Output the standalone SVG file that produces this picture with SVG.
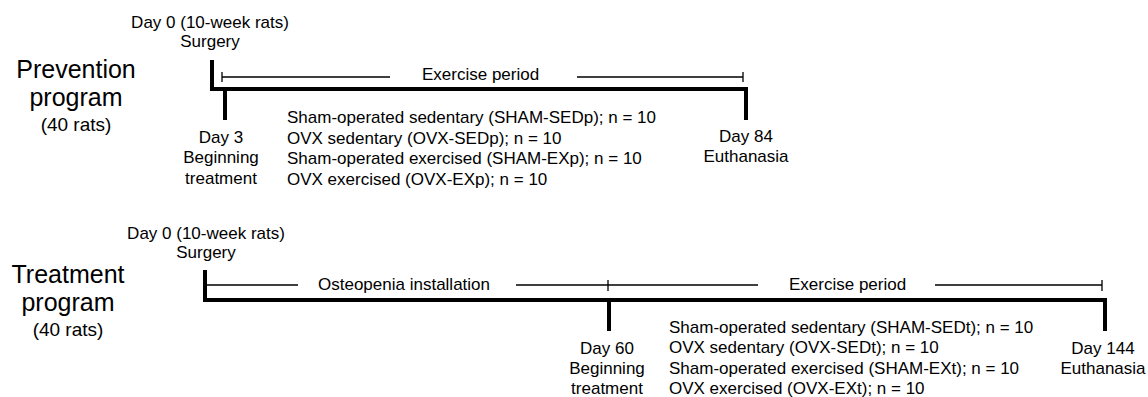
<svg xmlns="http://www.w3.org/2000/svg" width="1148" height="397" viewBox="0 0 1148 397">
<style>
text{font-family:"Liberation Sans",Arial,sans-serif;fill:#000}
.s{font-size:17px}
.t{font-size:25px}
.r{font-size:19px}
.m{text-anchor:middle}
.thick{stroke:#000;stroke-width:4;fill:none}
.thin{stroke:#000;stroke-width:1.3;fill:none}
</style>
<rect width="1148" height="397" fill="#fff"/>
<g id="prevention-title">
<text class="t m" x="76" y="78">Prevention</text>
<text class="t m" x="76" y="106">program</text>
<text class="r m" x="76" y="131">(40 rats)</text>
</g>
<g id="prev-day0">
<text class="s m" x="210" y="28">Day 0 (10-week rats)</text>
<text class="s m" x="210" y="47">Surgery</text>
</g>
<g id="prev-day3">
<text class="s m" x="221" y="143">Day 3</text>
<text class="s m" x="221" y="163">Beginning</text>
<text class="s m" x="221" y="184">treatment</text>
</g>
<g id="prev-exercise-label">
<text class="s" x="422" y="80">Exercise period</text>
</g>
<g id="prev-groups">
<text class="s" x="287" y="123">Sham-operated sedentary (SHAM-SEDp); n = 10</text>
<text class="s" x="287" y="144">OVX sedentary (OVX-SEDp); n = 10</text>
<text class="s" x="287" y="164">Sham-operated exercised (SHAM-EXp); n = 10</text>
<text class="s" x="287" y="185">OVX exercised (OVX-EXp); n = 10</text>
</g>
<g id="prev-day84">
<text class="s m" x="746" y="142">Day 84</text>
<text class="s m" x="746" y="162">Euthanasia</text>
</g>
<g id="treatment-title">
<text class="t m" x="68" y="283">Treatment</text>
<text class="t m" x="68" y="311">program</text>
<text class="r m" x="68" y="336">(40 rats)</text>
</g>
<g id="treat-day0">
<text class="s m" x="206" y="239">Day 0 (10-week rats)</text>
<text class="s m" x="206" y="258">Surgery</text>
</g>
<g id="treat-osteopenia-label">
<text class="s" x="318" y="290">Osteopenia installation</text>
</g>
<g id="treat-exercise-label">
<text class="s" x="789" y="290">Exercise period</text>
</g>
<g id="treat-day60">
<text class="s m" x="607" y="354">Day 60</text>
<text class="s m" x="607" y="374">Beginning</text>
<text class="s m" x="607" y="394">treatment</text>
</g>
<g id="treat-groups">
<text class="s" x="669" y="333">Sham-operated sedentary (SHAM-SEDt); n = 10</text>
<text class="s" x="669" y="353">OVX sedentary (OVX-SEDt); n = 10</text>
<text class="s" x="669" y="374">Sham-operated exercised (SHAM-EXt); n = 10</text>
<text class="s" x="669" y="394">OVX exercised (OVX-EXt); n = 10</text>
</g>
<g id="treat-day144">
<text class="s m" x="1103" y="354">Day 144</text>
<text class="s m" x="1103" y="374">Euthanasia</text>
</g>
<g id="connectors">
<path class="thick" d="M212 60 V89 H746 V120"/>
<path class="thick" d="M225 89 V120"/>
<path class="thin" d="M222 72 V82 M222 77 H390 M577 77 H743 M743 72 V82"/>
<path class="thick" d="M205 270 V300 H1105 V331"/>
<path class="thick" d="M609 300 V331"/>
<path class="thin" d="M207 285 H298 M516 285 H758 M608 280 V291 M935 285 H1102 M1102 280 V291"/>
</g>
</svg>
